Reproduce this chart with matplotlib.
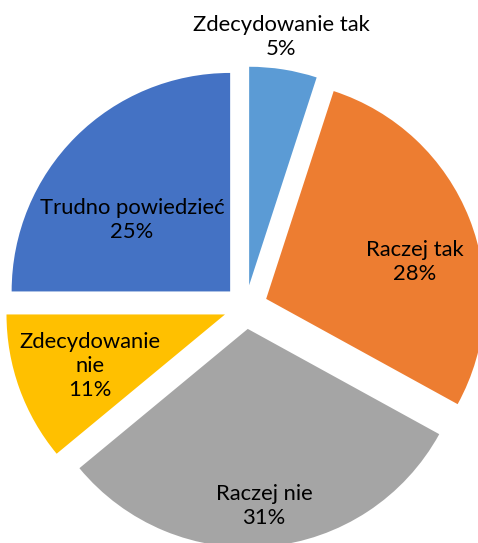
import matplotlib
matplotlib.use("Agg")
import matplotlib.pyplot as plt

categories = ["Zdecydowanie tak", "Raczej tak", "Raczej nie", "Zdecydowanie nie", "Trudno powiedzieć"]
shares = [5, 28, 31, 11, 25]
label_texts = ["Zdecydowanie tak\n5%", "Raczej tak\n28%", "Raczej nie\n31%",
               "Zdecydowanie\nnie\n11%", "Trudno powiedzieć\n25%"]
colors = ["#5B9BD5", "#ED7D31", "#A5A5A5", "#FFC000", "#4472C4"]

W, H = 478, 543
fig = plt.figure(figsize=(W / 100, H / 100), dpi=100)
ax = fig.add_axes([0, 0, 1, 1])

cx, cy, r = 245.7, H - 307, 218.5
gap = 22  # explode offset in data units (pixels)
ax.pie(shares, colors=colors, startangle=90, counterclock=False,
       center=(cx, cy), radius=r, explode=[gap] * len(shares),
       wedgeprops=dict(linewidth=0), frame=True)
ax.set_xlim(0, W)
ax.set_ylim(0, H)
ax.axis("off")

# label anchor points (pixel coords from top-left)
label_pos = [(281, 37), (415, 262), (264, 506), (90, 366), (132, 220)]
for txt, (x, y) in zip(label_texts, label_pos):
    ax.text(x, H - y, txt, ha="center", va="center", fontsize=15.8,
            family="Lato", color="black", linespacing=1.25)

fig.savefig("out.png", dpi=100)
